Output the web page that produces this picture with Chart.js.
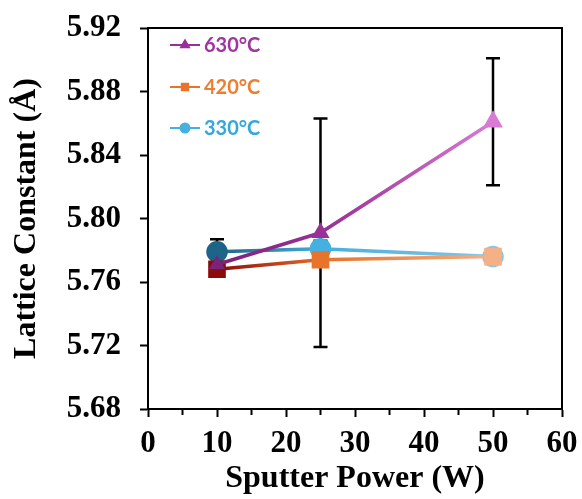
<!DOCTYPE html>
<html>
<head>
<meta charset="utf-8">
<script src="https://cdn.jsdelivr.net/npm/chart.js@4"></script>
<style>
  html, body { margin: 0; padding: 0; background: #fff; }
  #wrap { width: 582px; height: 499px; }
</style>
</head>
<body>
<div id="wrap"><canvas id="latticeChart" width="582" height="499"></canvas></div>
<script>
// sputter power (W) and lattice constant (Å) per substrate temperature
const powers = [10, 25, 50];
const labels = ['630°C', '420°C', '330°C'];
const lc630 = [5.771, 5.791, 5.861];
const err630 = [0, 0.072, 0.040];
const lc420 = [5.768, 5.774, 5.776];
const err420 = [0, 0, 0];
const lc330 = [5.779, 5.781, 5.776];
const err330 = [0.008, 0.005, 0];

const xTicks = [0, 10, 20, 30, 40, 50, 60];
const xMinor = [5, 15, 25, 35, 45, 55];
const yTicks = [5.68, 5.72, 5.76, 5.80, 5.84, 5.88, 5.92];

// colour ramps along each line (start, middle, end)
const ramp630 = ['#7a237a', '#9a3197', '#d97bd4'];
const ramp420 = ['#8b0a0a', '#e8742c', '#f4b186'];
const ramp330 = ['#1d6488', '#46b0e0', '#8cc4e0'];
const legendColors = ['#a034a0', '#ed7d31', '#34a8dc'];
const legendLine = ['#9a2f9a', '#e8742c', '#46b0e0'];

const Chart = window.Chart;

function lineGradient(ramp) {
  return ctx => {
    const chart = ctx.chart;
    const area = chart.chartArea;
    if (!area) return ramp[1];
    const xs = chart.scales.x;
    const x0 = xs.getPixelForValue(powers[0]);
    const x1 = xs.getPixelForValue(powers[powers.length - 1]);
    const g = chart.ctx.createLinearGradient(x0, 0, x1, 0);
    g.addColorStop(0, ramp[0]);
    g.addColorStop(0.4, ramp[1]);
    g.addColorStop(1, ramp[2]);
    return g;
  };
}

function toPoints(ys) {
  return powers.map((p, i) => ({ x: p, y: ys[i] }));
}

const errors = [err630, err420, err330];

const errorBars = {
  id: 'errorBars',
  beforeDatasetsDraw(chart) {
    const { ctx, scales: { x, y } } = chart;
    ctx.save();
    ctx.strokeStyle = '#000';
    ctx.lineWidth = 2.5;
    chart.data.datasets.forEach((ds, di) => {
      const errs = errors[di];
      ds.data.forEach((pt, i) => {
        const e = errs[i];
        if (!e) return;
        const px = x.getPixelForValue(pt.x);
        const top = y.getPixelForValue(pt.y + e);
        const bot = y.getPixelForValue(pt.y - e);
        ctx.beginPath();
        ctx.moveTo(px, top); ctx.lineTo(px, bot);
        ctx.moveTo(px - 7, top); ctx.lineTo(px + 7, top);
        ctx.moveTo(px - 7, bot); ctx.lineTo(px + 7, bot);
        ctx.stroke();
      });
    });
    ctx.restore();
  }
};

const frameAndLegend = {
  id: 'frameAndLegend',
  afterDraw(chart) {
    const { ctx, chartArea: a, scales: { x } } = chart;
    ctx.save();
    ctx.strokeStyle = '#000';
    ctx.lineWidth = 2;
    ctx.strokeRect(a.left, a.top, a.right - a.left, a.bottom - a.top);

    // short minor ticks on the x axis
    ctx.beginPath();
    xMinor.forEach(v => {
      const px = x.getPixelForValue(v);
      ctx.moveTo(px, a.bottom); ctx.lineTo(px, a.bottom + 6);
    });
    ctx.stroke();

    // legend inside the plot, top-left
    const styles = ['triangle', 'rect', 'circle'];
    const rows = [45, 87, 128];
    ctx.font = 'bold 20px Lato';
    ctx.textBaseline = 'middle';
    labels.forEach((txt, i) => {
      const yy = rows[i];
      ctx.strokeStyle = legendLine[i];
      ctx.fillStyle = legendLine[i];
      ctx.lineWidth = 2;
      ctx.beginPath();
      ctx.moveTo(170, yy); ctx.lineTo(200, yy);
      ctx.stroke();
      Chart.helpers.drawPoint(ctx, { pointStyle: styles[i], radius: 4.5, borderWidth: 1 }, 185, yy);
      ctx.fillStyle = legendColors[i];
      ctx.fillText(txt, 204, yy + 1);
    });
    ctx.restore();
  }
};

const tickFont = { family: 'Liberation Serif', size: 31, weight: 'bold' };
const titleFont = { family: 'Liberation Serif', size: 32, weight: 'bold' };

new Chart(document.getElementById('latticeChart').getContext('2d'), {
  type: 'line',
  data: {
    datasets: [
      {
        label: labels[0],
        data: toPoints(lc630),
        borderColor: lineGradient(ramp630),
        backgroundColor: ramp630,
        pointBorderColor: ramp630,
        pointBackgroundColor: ramp630,
        pointStyle: 'triangle',
        pointRadius: [6, 7, 8],
        borderWidth: 3.5
      },
      {
        label: labels[1],
        data: toPoints(lc420),
        borderColor: lineGradient(ramp420),
        backgroundColor: ramp420,
        pointBorderColor: ramp420,
        pointBackgroundColor: ramp420,
        pointStyle: 'rect',
        pointRadius: 10,
        borderWidth: 3.5
      },
      {
        label: labels[2],
        data: toPoints(lc330),
        borderColor: lineGradient(ramp330),
        backgroundColor: ramp330,
        pointBorderColor: ramp330,
        pointBackgroundColor: ramp330,
        pointStyle: 'circle',
        pointRadius: 9,
        borderWidth: 3.5
      }
    ]
  },
  options: {
    responsive: false,
    animation: false,
    layout: { padding: { top: 28, right: 20, left: 0, bottom: 0 } },
    plugins: {
      legend: { display: false },
      tooltip: { enabled: false }
    },
    scales: {
      x: {
        type: 'linear',
        min: 0,
        max: 60,
        afterBuildTicks: s => { s.ticks = xTicks.map(v => ({ value: v })); },
        afterFit: s => { s.height = 90; s.paddingLeft = 0; s.paddingRight = 0; },
        ticks: {
          color: '#000',
          font: tickFont,
          padding: 8,
          maxRotation: 0,
          autoSkip: false,
          callback: v => String(v)
        },
        grid: { drawOnChartArea: false, drawTicks: true, tickLength: 8, tickColor: '#000', tickWidth: 2 },
        border: { display: true, color: '#000', width: 2 },
        title: { display: true, text: 'Sputter Power (W)', color: '#000', font: titleFont, padding: { top: 0, bottom: 1 } }
      },
      y: {
        type: 'linear',
        min: 5.68,
        max: 5.92,
        afterBuildTicks: s => { s.ticks = yTicks.map(v => ({ value: v })); },
        afterFit: s => { s.width = 148; s.paddingTop = 0; s.paddingBottom = 0; },
        ticks: {
          color: '#000',
          font: tickFont,
          padding: 19,
          callback: v => v.toFixed(2)
        },
        grid: { drawOnChartArea: false, drawTicks: true, tickLength: 8, tickColor: '#000', tickWidth: 2 },
        border: { display: true, color: '#000', width: 2 },
        title: { display: true, text: 'Lattice Constant (Å)', color: '#000', font: titleFont, padding: { top: 8, bottom: 0 } }
      }
    }
  },
  plugins: [errorBars, frameAndLegend]
});
</script>
</body>
</html>
